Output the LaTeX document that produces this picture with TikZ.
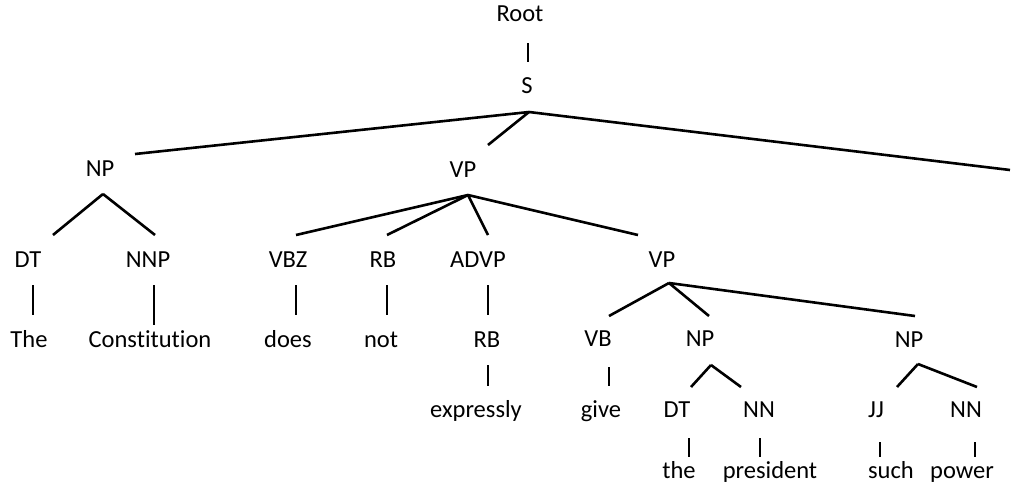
\documentclass[tikz,border=0pt]{standalone}
\usepackage{fontspec}
\setmainfont{Carlito}[Ligatures=NoCommon]
\begin{document}
\begin{tikzpicture}[x=1pt,y=-1pt,
  lbl/.style={anchor=base,inner sep=0pt,font=\fontsize{24.5}{29}\selectfont},
  branch/.style={line width=2.6pt,line cap=butt}]
\useasboundingbox (0,0) rectangle (1026,496);

% labels (x = centre, y = baseline)
\node[lbl] (root) at (520,21) {Root};
\node[lbl] (s) at (527,93) {S};
\node[lbl] (np1) at (100,176) {NP};
\node[lbl] (vp1) at (463,177) {VP};
\node[lbl] (dt1) at (28,267) {DT};
\node[lbl] (nnp) at (148,267) {NNP};
\node[lbl] (vbz) at (288,267) {VBZ};
\node[lbl] (rb1) at (383,267) {RB};
\node[lbl] (advp) at (478,267) {ADVP};
\node[lbl] (vp2) at (662,267) {VP};
\node[lbl] (wThe) at (29,347) {The};
\node[lbl] (wConst) at (150,347) {Constitution};
\node[lbl] (wdoes) at (288,347) {does};
\node[lbl] (wnot) at (381,347) {not};
\node[lbl] (rb2) at (487,347) {RB};
\node[lbl] (vb) at (598,346) {VB};
\node[lbl] (np2) at (700,346) {NP};
\node[lbl] (np3) at (909,347) {NP};
\node[lbl] (wexpr) at (476,417) {expressly};
\node[lbl] (wgive) at (601,417) {give};
\node[lbl] (dt2) at (677,417) {DT};
\node[lbl] (nn1) at (759,417) {NN};
\node[lbl] (jj) at (876,417) {JJ};
\node[lbl] (nn2) at (966,417) {NN};
\node[lbl] (wthe) at (679,478) {the};
\node[lbl] (wpres) at (770,478) {president};
\node[lbl] (wsuch) at (891,478) {such};
\node[lbl] (wpower) at (962,478) {power};

% branch points below parents (-b) and above children (-t)
\coordinate (root-b) at (528,43);
\coordinate (s-t) at (528,62);
\coordinate (s-b) at (529,112);
\coordinate (np1-t) at (135,154);
\coordinate (vp1-t) at (488,145);
\coordinate (punct-t) at (1010,170);
\coordinate (np1-b) at (103,194);
\coordinate (dt1-t) at (53,235);
\coordinate (nnp-t) at (155,235);
\coordinate (vp1-b) at (468,195);
\coordinate (vbz-t) at (296,235);
\coordinate (rb1-t) at (387,235);
\coordinate (advp-t) at (488,235);
\coordinate (vp2-t) at (638,235);
\coordinate (dt1-b) at (33,285);
\coordinate (wThe-t) at (33,315);
\coordinate (nnp-b) at (154,285);
\coordinate (wConst-t) at (154,325);
\coordinate (vbz-b) at (296,285);
\coordinate (wdoes-t) at (296,315);
\coordinate (rb1-b) at (387,285);
\coordinate (wnot-t) at (387,315);
\coordinate (advp-b) at (488,285);
\coordinate (rb2-t) at (488,315);
\coordinate (vp2-b) at (669,283);
\coordinate (vb-t) at (609,316);
\coordinate (np2-t) at (709,316);
\coordinate (np3-t) at (915,316);
\coordinate (rb2-b) at (488,365);
\coordinate (wexpr-t) at (488,386);
\coordinate (vb-b) at (609,367);
\coordinate (wgive-t) at (609,386);
\coordinate (np2-b) at (711,365);
\coordinate (dt2-t) at (691,387);
\coordinate (nn1-t) at (741,387);
\coordinate (np3-b) at (918,364);
\coordinate (jj-t) at (897,387);
\coordinate (nn2-t) at (977,387);
\coordinate (dt2-b) at (689,438);
\coordinate (wthe-t) at (689,457);
\coordinate (nn1-b) at (760,438);
\coordinate (wpres-t) at (760,457);
\coordinate (jj-b) at (880,442);
\coordinate (wsuch-t) at (880,457);
\coordinate (nn2-b) at (975,442);
\coordinate (wpower-t) at (975,457);

% tree edges
\draw[branch] (root-b) -- (s-t);
\draw[branch] (s-b) -- (np1-t);
\draw[branch] (s-b) -- (vp1-t);
\draw[branch] (s-b) -- (punct-t);
\draw[branch] (np1-b) -- (dt1-t);
\draw[branch] (np1-b) -- (nnp-t);
\draw[branch] (vp1-b) -- (vbz-t);
\draw[branch] (vp1-b) -- (rb1-t);
\draw[branch] (vp1-b) -- (advp-t);
\draw[branch] (vp1-b) -- (vp2-t);
\draw[branch] (dt1-b) -- (wThe-t);
\draw[branch] (nnp-b) -- (wConst-t);
\draw[branch] (vbz-b) -- (wdoes-t);
\draw[branch] (rb1-b) -- (wnot-t);
\draw[branch] (advp-b) -- (rb2-t);
\draw[branch] (vp2-b) -- (vb-t);
\draw[branch] (vp2-b) -- (np2-t);
\draw[branch] (vp2-b) -- (np3-t);
\draw[branch] (rb2-b) -- (wexpr-t);
\draw[branch] (vb-b) -- (wgive-t);
\draw[branch] (np2-b) -- (dt2-t);
\draw[branch] (np2-b) -- (nn1-t);
\draw[branch] (np3-b) -- (jj-t);
\draw[branch] (np3-b) -- (nn2-t);
\draw[branch] (dt2-b) -- (wthe-t);
\draw[branch] (nn1-b) -- (wpres-t);
\draw[branch] (jj-b) -- (wsuch-t);
\draw[branch] (nn2-b) -- (wpower-t);
\end{tikzpicture}
\end{document}
